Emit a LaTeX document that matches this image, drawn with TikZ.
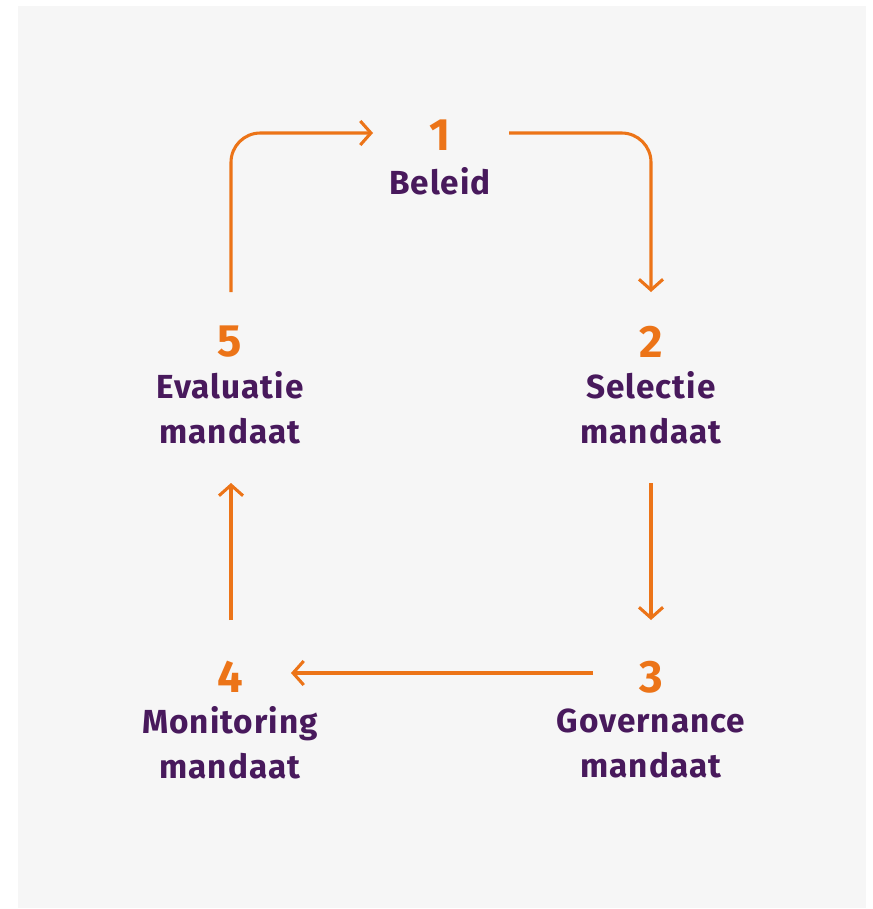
\documentclass[tikz,border=0pt]{standalone}
\usepackage{fontspec}
\setmainfont{Fira Sans}[BoldFont={Fira Sans Bold}]
\newfontfamily\lblfont{Fira Sans Bold}[LetterSpace=3]
\usetikzlibrary{arrows.meta}
\definecolor{bgc}{HTML}{F6F6F6}
\definecolor{orng}{HTML}{EC7418}
\definecolor{purp}{HTML}{48195C}
\begin{document}
\begin{tikzpicture}[x=0.75pt,y=-0.75pt,
  num/.style={font=\fontsize{34}{34}\selectfont\bfseries, text=orng, inner sep=0pt},
  lbl/.style={font=\lblfont\fontsize{25}{33.75}\selectfont, text=purp, align=center, inner sep=0pt},
  conn/.style={draw=orng, line width=2.3pt, rounded corners=22pt,
    -{Straight Barb[length=8pt,width=18pt,line width=2.3pt]}}]
\useasboundingbox (0,0) rectangle (872,909);
\fill[bgc] (18,6) rectangle (866,908);
% numbers
\node[num] (n1) at (440,135) {1};
\node[num] (n2) at (651,342) {2};
\node[num] (n3) at (651,677) {3};
\node[num] (n4) at (230,677) {4};
\node[num] (n5) at (230,342) {5};
% labels
\node[lbl] (l1) at (440,181) {Beleid};
\node[lbl] (l2) at (651,408) {Selectie\\mandaat};
\node[lbl] (l3) at (651,743) {Governance\\mandaat};
\node[lbl] (l4) at (230,743) {Monitoring\\mandaat};
\node[lbl] (l5) at (230,408) {Evaluatie\\mandaat};
% connectors
\coordinate (a1) at (231,292);
\coordinate (a2) at (373,133);
\coordinate (b1) at (509,133);
\coordinate (b2) at (651,292);
\coordinate (c1) at (651,483);
\coordinate (c2) at (651,620);
\coordinate (d1) at (593,673);
\coordinate (d2) at (291,673);
\coordinate (e1) at (231,620);
\coordinate (e2) at (231,483);
\draw[conn] (a1) |- (a2);
\draw[conn] (b1) -| (b2);
\draw[conn] (c1) -- (c2);
\draw[conn] (d1) -- (d2);
\draw[conn] (e1) -- (e2);
\end{tikzpicture}
\end{document}
